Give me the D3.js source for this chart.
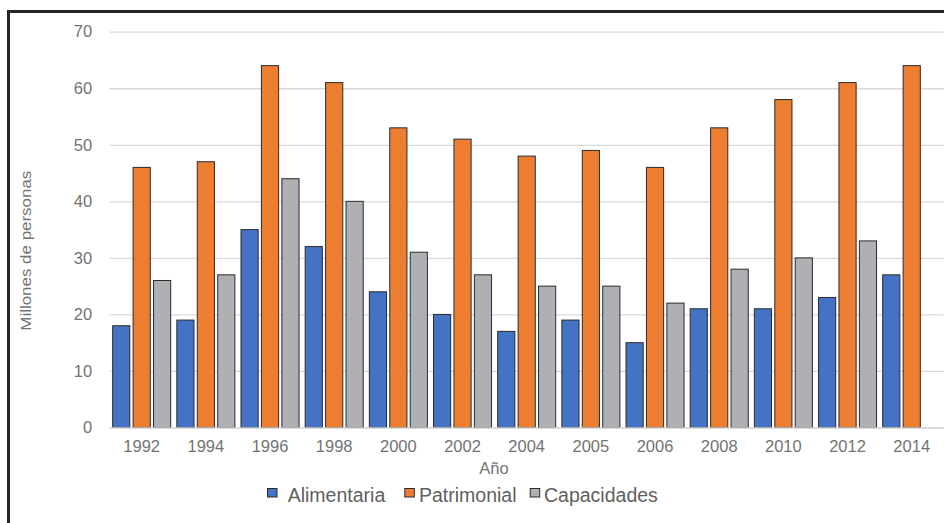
<!DOCTYPE html>
<html>
<head>
<meta charset="utf-8">
<script src="https://cdn.jsdelivr.net/npm/d3@7/dist/d3.min.js"></script>
<style>
  html, body { margin: 0; padding: 0; background: #fff; }
  svg { display: block; }
  text { font-family: "Liberation Sans", Arial, sans-serif; }
</style>
</head>
<body>
<svg id="chart" width="944" height="523"></svg>
<script>
// Población en pobreza por tipo (millones de personas)
const years = ["1992", "1994", "1996", "1998", "2000", "2002", "2004", "2005", "2006", "2008", "2010", "2012", "2014"];
const seriesNames = ["Alimentaria", "Patrimonial", "Capacidades"];
const alimentaria = [18, 19, 35, 32, 24, 20, 17, 19, 15, 21, 21, 23, 27];
const patrimonial = [46, 47, 64, 61, 53, 51, 48, 49, 46, 53, 58, 61, 64];
const capacidades = [26, 27, 44, 40, 31, 27, 25, 25, 22, 28, 30, 33, null];
const yTicks = [0, 10, 20, 30, 40, 50, 60, 70];
const seriesColors = ["#4472C4", "#ED7D31", "#AFB0B3"];

const seriesValues = [alimentaria, patrimonial, capacidades];
const rows = years.map((yr, i) => ({
  year: yr,
  values: seriesNames.map((name, s) => ({ name, value: seriesValues[s][i], color: seriesColors[s] }))
}));

const svg = d3.select("#chart");
const plot = { left: 109.6, right: 943.8, top: 31.7, bottom: 427.5 };

// outer frame
svg.append("rect")
  .attr("x", 8.5).attr("y", 11.5)
  .attr("width", 1000).attr("height", 1000)
  .attr("fill", "none").attr("stroke", "#262626").attr("stroke-width", 3);

const x0 = d3.scaleBand().domain(years).range([plot.left, plot.right]).padding(0);
const x1 = d3.scaleBand().domain(seriesNames).range([0, x0.bandwidth()])
  .paddingInner(0.16).paddingOuter(0.15);
const y = d3.scaleLinear().domain([0, 70]).range([plot.bottom, plot.top]);

// value axis with gridlines
const yAxis = svg.append("g")
  .attr("transform", `translate(${plot.left},0)`)
  .call(d3.axisLeft(y).tickValues(yTicks).tickSize(-(plot.right - plot.left)).tickPadding(17.5));
yAxis.select(".domain").remove();
yAxis.selectAll(".tick line").attr("stroke", "#d9d9d9").attr("stroke-width", 1.3);
yAxis.selectAll(".tick text")
  .attr("font-size", "16.5px").attr("fill", "#737373")
  .style("font-family", "'Liberation Sans', Arial, sans-serif");

// bars
const groups = svg.append("g").selectAll("g")
  .data(rows).join("g")
  .attr("transform", d => `translate(${x0(d.year)},0)`);

groups.selectAll("rect")
  .data(d => d.values.filter(v => v.value != null))
  .join("rect")
  .attr("x", d => x1(d.name))
  .attr("width", x1.bandwidth())
  .attr("y", d => y(d.value))
  .attr("height", d => y(0) - y(d.value))
  .attr("fill", d => d.color)
  .attr("stroke", "#2b2b2b")
  .attr("stroke-width", 1);

// category axis
const xAxis = svg.append("g")
  .attr("transform", `translate(0,${plot.bottom})`)
  .call(d3.axisBottom(x0).tickSize(0).tickPadding(13));
xAxis.select(".domain").attr("stroke", "#d9d9d9").attr("stroke-width", 1.5);
xAxis.selectAll(".tick text")
  .attr("font-size", "16.5px").attr("fill", "#737373")
  .style("font-family", "'Liberation Sans', Arial, sans-serif");

// axis titles
svg.append("text")
  .attr("x", 494).attr("y", 474)
  .attr("text-anchor", "middle")
  .attr("font-size", "16.5px").attr("fill", "#737373")
  .text("Año");

svg.append("text")
  .attr("transform", "translate(31,250.7) rotate(-90)")
  .attr("text-anchor", "middle")
  .attr("font-size", "14px").attr("fill", "#737373")
  .attr("textLength", 160).attr("lengthAdjust", "spacingAndGlyphs")
  .text("Millones de personas");

// legend
const legendSwatchX = [267, 404.3, 529.7];
const legendTextX = [287.7, 419, 544];
const legend = svg.append("g");
seriesNames.forEach((name, i) => {
  legend.append("rect")
    .attr("x", legendSwatchX[i] + 0.5).attr("y", 488.5)
    .attr("width", 9.5).attr("height", 8.5)
    .attr("fill", seriesColors[i])
    .attr("stroke", "#2b2b2b").attr("stroke-width", 1);
  legend.append("text")
    .attr("x", legendTextX[i]).attr("y", 502)
    .attr("font-size", "19.5px").attr("fill", "#5f5f5f")
    .text(name);
});
</script>
</body>
</html>
